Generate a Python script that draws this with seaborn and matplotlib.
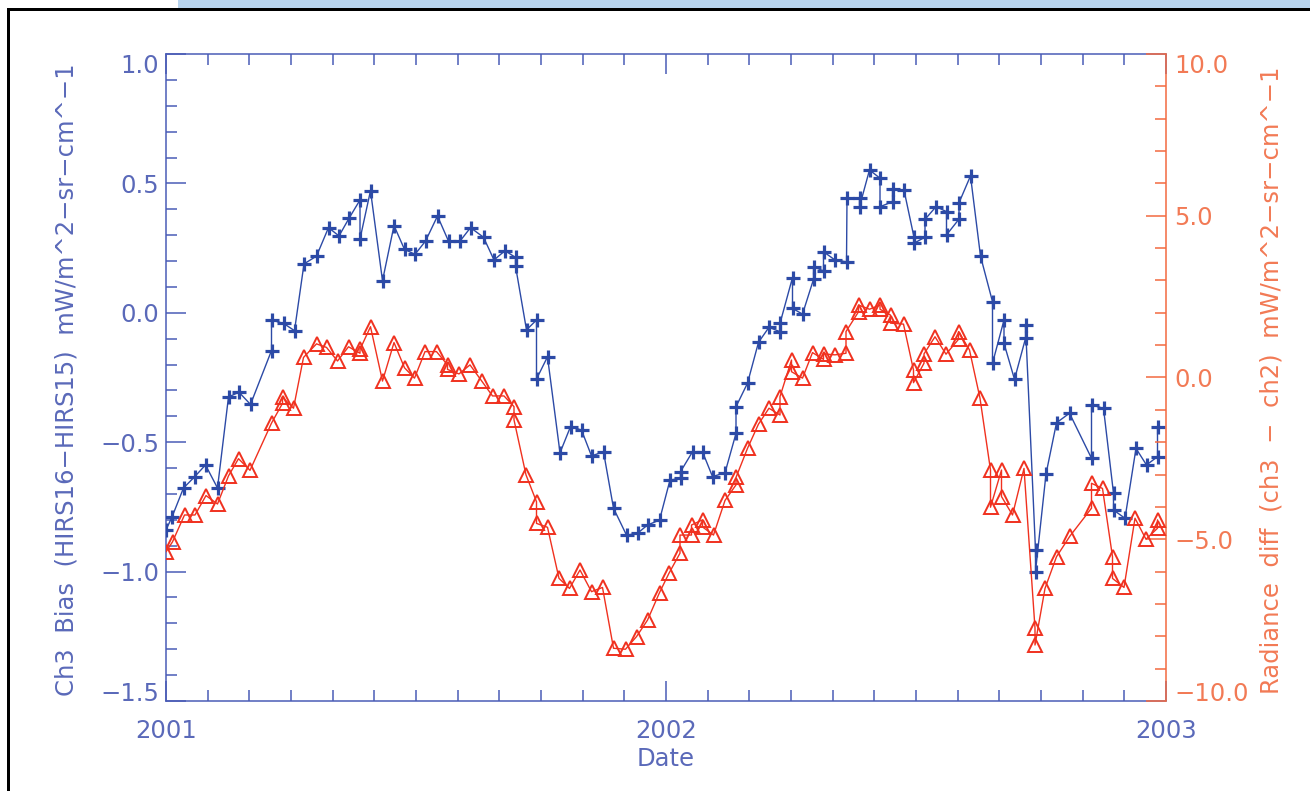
import matplotlib
matplotlib.use("Agg")
import numpy as np
import pandas as pd
import matplotlib.pyplot as plt
import seaborn as sns
from matplotlib.patches import Rectangle
from matplotlib.ticker import FixedLocator, FuncFormatter

# ---------------- data (decimal year, values) ----------------
blue_dates = [2001.000, 2001.012, 2001.035, 2001.057, 2001.079, 2001.103, 2001.125, 2001.146, 2001.169, 2001.211,
              2001.211, 2001.235, 2001.257, 2001.276, 2001.301, 2001.325, 2001.346, 2001.366, 2001.388, 2001.388,
              2001.409, 2001.433, 2001.456, 2001.477, 2001.498, 2001.519, 2001.543, 2001.565, 2001.588, 2001.609,
              2001.635, 2001.656, 2001.678, 2001.699, 2001.699, 2001.721, 2001.741, 2001.741, 2001.763, 2001.788,
              2001.809, 2001.831, 2001.851, 2001.875, 2001.895, 2001.921, 2001.943, 2001.963, 2001.987, 2002.008,
              2002.029, 2002.029, 2002.053, 2002.073, 2002.093, 2002.118, 2002.140, 2002.140, 2002.163, 2002.185,
              2002.206, 2002.228, 2002.228, 2002.253, 2002.253, 2002.273, 2002.295, 2002.295, 2002.315, 2002.315,
              2002.338, 2002.361, 2002.362, 2002.387, 2002.387, 2002.407, 2002.428, 2002.428, 2002.453, 2002.453,
              2002.476, 2002.496, 2002.496, 2002.518, 2002.518, 2002.540, 2002.561, 2002.561, 2002.586, 2002.586,
              2002.609, 2002.629, 2002.653, 2002.653, 2002.676, 2002.676, 2002.697, 2002.719, 2002.719, 2002.739,
              2002.739, 2002.760, 2002.781, 2002.807, 2002.851, 2002.851, 2002.875, 2002.895, 2002.895, 2002.918,
              2002.940, 2002.961, 2002.983, 2002.983]
ch3_bias = [-0.839, -0.789, -0.677, -0.634, -0.588, -0.677, -0.325, -0.307, -0.354, -0.146,
            -0.028, -0.041, -0.069, 0.189, 0.219, 0.329, 0.297, 0.365, 0.436, 0.285,
            0.472, 0.124, 0.337, 0.245, 0.226, 0.277, 0.374, 0.277, 0.277, 0.329,
            0.292, 0.204, 0.240, 0.214, 0.181, -0.066, -0.028, -0.256, -0.170, -0.541,
            -0.440, -0.453, -0.553, -0.537, -0.755, -0.859, -0.852, -0.820, -0.801, -0.646,
            -0.640, -0.614, -0.537, -0.537, -0.633, -0.618, -0.466, -0.363, -0.272, -0.114,
            -0.056, -0.073, -0.041, 0.136, 0.017, -0.005, 0.129, 0.178, 0.162, 0.236,
            0.204, 0.197, 0.442, 0.442, 0.410, 0.552, 0.520, 0.410, 0.429, 0.477,
            0.474, 0.292, 0.269, 0.292, 0.361, 0.410, 0.391, 0.301, 0.362, 0.425,
            0.529, 0.219, 0.043, -0.195, -0.028, -0.118, -0.257, -0.099, -0.047, -0.917,
            -1.000, -0.623, -0.425, -0.388, -0.562, -0.356, -0.369, -0.697, -0.762, -0.794,
            -0.524, -0.588, -0.556, -0.440]

red_dates = [2001.000, 2001.013, 2001.037, 2001.058, 2001.080, 2001.103, 2001.125, 2001.145, 2001.168, 2001.211,
             2001.233, 2001.233, 2001.255, 2001.275, 2001.301, 2001.321, 2001.343, 2001.365, 2001.388, 2001.388,
             2001.409, 2001.433, 2001.456, 2001.477, 2001.497, 2001.518, 2001.541, 2001.563, 2001.563, 2001.586,
             2001.608, 2001.631, 2001.653, 2001.676, 2001.696, 2001.696, 2001.720, 2001.741, 2001.741, 2001.763,
             2001.786, 2001.807, 2001.828, 2001.851, 2001.873, 2001.895, 2001.919, 2001.941, 2001.963, 2001.987,
             2002.006, 2002.028, 2002.028, 2002.051, 2002.051, 2002.073, 2002.073, 2002.095, 2002.118, 2002.140,
             2002.140, 2002.163, 2002.185, 2002.206, 2002.228, 2002.228, 2002.251, 2002.251, 2002.273, 2002.293,
             2002.315, 2002.315, 2002.338, 2002.360, 2002.360, 2002.385, 2002.385, 2002.407, 2002.428, 2002.428,
             2002.449, 2002.449, 2002.475, 2002.495, 2002.495, 2002.516, 2002.516, 2002.538, 2002.560, 2002.585,
             2002.585, 2002.607, 2002.628, 2002.649, 2002.649, 2002.671, 2002.671, 2002.693, 2002.716, 2002.738,
             2002.738, 2002.758, 2002.781, 2002.808, 2002.851, 2002.851, 2002.873, 2002.893, 2002.893, 2002.916,
             2002.938, 2002.960, 2002.983, 2002.983]
radiance_diff = [-5.39, -5.08, -4.25, -4.25, -3.65, -3.91, -3.04, -2.51, -2.87, -1.41,
                 -0.80, -0.61, -0.95, 0.62, 1.04, 0.93, 0.51, 0.95, 0.75, 0.87,
                 1.57, -0.11, 1.08, 0.30, -0.02, 0.80, 0.80, 0.39, 0.25, 0.11,
                 0.39, -0.10, -0.57, -0.57, -0.90, -1.31, -3.01, -3.84, -4.51, -4.63,
                 -6.21, -6.52, -5.95, -6.62, -6.49, -8.37, -8.40, -8.01, -7.50, -6.65,
                 -6.05, -5.43, -4.87, -4.87, -4.56, -4.40, -4.62, -4.87, -3.80, -3.32,
                 -3.09, -2.19, -1.44, -0.95, -1.16, -0.59, 0.54, 0.18, -0.02, 0.77,
                 0.56, 0.73, 0.70, 0.75, 1.42, 2.03, 2.24, 2.11, 2.24, 2.11,
                 1.93, 1.68, 1.65, 0.23, -0.16, 0.44, 0.73, 1.26, 0.72, 1.18,
                 1.42, 0.85, -0.64, -2.86, -4.01, -2.86, -3.68, -4.25, -2.81, -7.75,
                 -8.27, -6.52, -5.54, -4.90, -4.04, -3.27, -3.43, -5.54, -6.21, -6.49,
                 -4.35, -5.00, -4.66, -4.40]

year_ticks = [2001, 2002, 2003]
year_labels = ["2001", "2002", "2003"]

# ---------------- style ----------------
sns.set_theme(style="white")
plt.rcParams["font.family"] = ["DejaVu Sans"]
plt.rcParams["axes.unicode_minus"] = True

BLUE_AX = "#4a5cb6"
BLUE_TXT = "#5a69b9"
BLUE_DATA = "#2c4aa6"
RED_DATA = "#f0311f"
ORANGE_AX = "#f36a40"
ORANGE_TXT = "#f27a55"
FS = 17.5

W, H = 1310, 791
fig = plt.figure(figsize=(W / 100, H / 100), dpi=100)
fig.patch.set_facecolor("white")

# page decorations (blue band and black frame)
fig.add_artist(Rectangle((178 / W, 1 - 8 / H), (W - 178) / W, 8 / H, transform=fig.transFigure,
                         facecolor="#b8d4ee", edgecolor="none"))
fig.add_artist(Rectangle((7 / W, 1 - 11 / H), (W - 7) / W, 3 / H, transform=fig.transFigure,
                         facecolor="black", edgecolor="none"))
fig.add_artist(Rectangle((7 / W, 0), 3 / W, 1 - 8 / H, transform=fig.transFigure,
                         facecolor="black", edgecolor="none"))

ax = fig.add_axes([166 / W, 90 / H, 1000 / W, 647 / H])
ax2 = ax.twinx()
ax.set_facecolor("white")

df_b = pd.DataFrame({"date": blue_dates, "bias": ch3_bias})
df_r = pd.DataFrame({"date": red_dates, "rad": radiance_diff})

sns.lineplot(data=df_b, x="date", y="bias", ax=ax, estimator=None, sort=False,
             color=BLUE_DATA, lw=1.0, marker="+", markersize=10,
             markeredgewidth=2.3, markeredgecolor=BLUE_DATA, zorder=3)
sns.lineplot(data=df_r, x="date", y="rad", ax=ax2, estimator=None, sort=False,
             color=RED_DATA, lw=1.0, marker="^", markersize=9.5,
             markerfacecolor="none", markeredgecolor=RED_DATA, markeredgewidth=1.4, zorder=3)

minus = lambda v, p: ("%.1f" % v).replace("-", "\u2212")

# x axis
ax.set_xlim(2001, 2003)
ax.set_xticks(year_ticks)
ax.set_xticklabels(year_labels)
ax.xaxis.set_minor_locator(FixedLocator([2001 + k / 12 for k in range(1, 24) if k != 12]))
ax.set_xlabel("Date", fontsize=FS, color=BLUE_TXT, va="top")
ax.xaxis.set_label_coords(0.5, -0.071)

# left axis
ax.set_ylim(-1.5, 1.0)
ax.set_yticks(np.arange(-1.5, 1.01, 0.5))
ax.yaxis.set_minor_locator(FixedLocator(np.arange(-1.5, 1.001, 0.1)))
ax.yaxis.set_major_formatter(FuncFormatter(minus))
ax.set_ylabel("")

# right axis
ax2.set_ylim(-10, 10)
ax2.set_yticks(np.arange(-10, 10.1, 5))
ax2.yaxis.set_minor_locator(FixedLocator(np.arange(-10, 10.01, 1)))
ax2.yaxis.set_major_formatter(FuncFormatter(minus))
ax2.set_ylabel("")
ax2.set_xlabel("")

MAJ, MIN, TW = 14.4, 8.0, 1.1
ax.tick_params(axis="x", which="both", direction="in", top=True, bottom=True,
               color=BLUE_AX, width=TW, labelcolor=BLUE_TXT, labelsize=FS, pad=13)
ax.tick_params(axis="x", which="major", length=MAJ)
ax.tick_params(axis="x", which="minor", length=MIN)
ax.tick_params(axis="y", which="both", direction="in", left=True, right=False,
               color=BLUE_AX, width=TW, labelcolor=BLUE_TXT, labelsize=FS, pad=5)
ax.tick_params(axis="y", which="major", length=MAJ)
ax.tick_params(axis="y", which="minor", length=MIN)
ax2.tick_params(axis="y", which="both", direction="in", right=True, left=False,
                color=ORANGE_AX, width=TW, labelcolor=ORANGE_TXT, labelsize=FS, pad=6)
ax2.tick_params(axis="y", which="major", length=MAJ)
ax2.tick_params(axis="y", which="minor", length=MIN)

for s in ["left", "top", "bottom"]:
    ax.spines[s].set_color(BLUE_AX)
    ax.spines[s].set_linewidth(TW)
    ax.spines[s].set_visible(True)
ax.spines["right"].set_visible(False)
for s in ["left", "top", "bottom"]:
    ax2.spines[s].set_visible(False)
ax2.spines["right"].set_visible(True)
ax2.spines["right"].set_color(ORANGE_AX)
ax2.spines["right"].set_linewidth(TW)

# end labels are nudged inside the frame, as in the original
for a in (ax, ax2):
    labs = a.get_yticklabels()
    labs[0].set_va("baseline")
    labs[-1].set_va("top")

fig.text(67 / W, 1 - 380 / H, "Ch3  Bias  (HIRS16\u2212HIRS15)  mW/m^2\u2212sr\u2212cm^\u22121",
         rotation=90, ha="center", va="center", fontsize=FS, color=BLUE_TXT)
fig.text(1272 / W, 1 - 380 / H, "Radiance  diff  (ch3  \u2212  ch2)  mW/m^2\u2212sr\u2212cm^\u22121",
         rotation=90, ha="center", va="center", fontsize=FS, color=ORANGE_TXT)

fig.savefig("out.png", dpi=100, facecolor="white")
